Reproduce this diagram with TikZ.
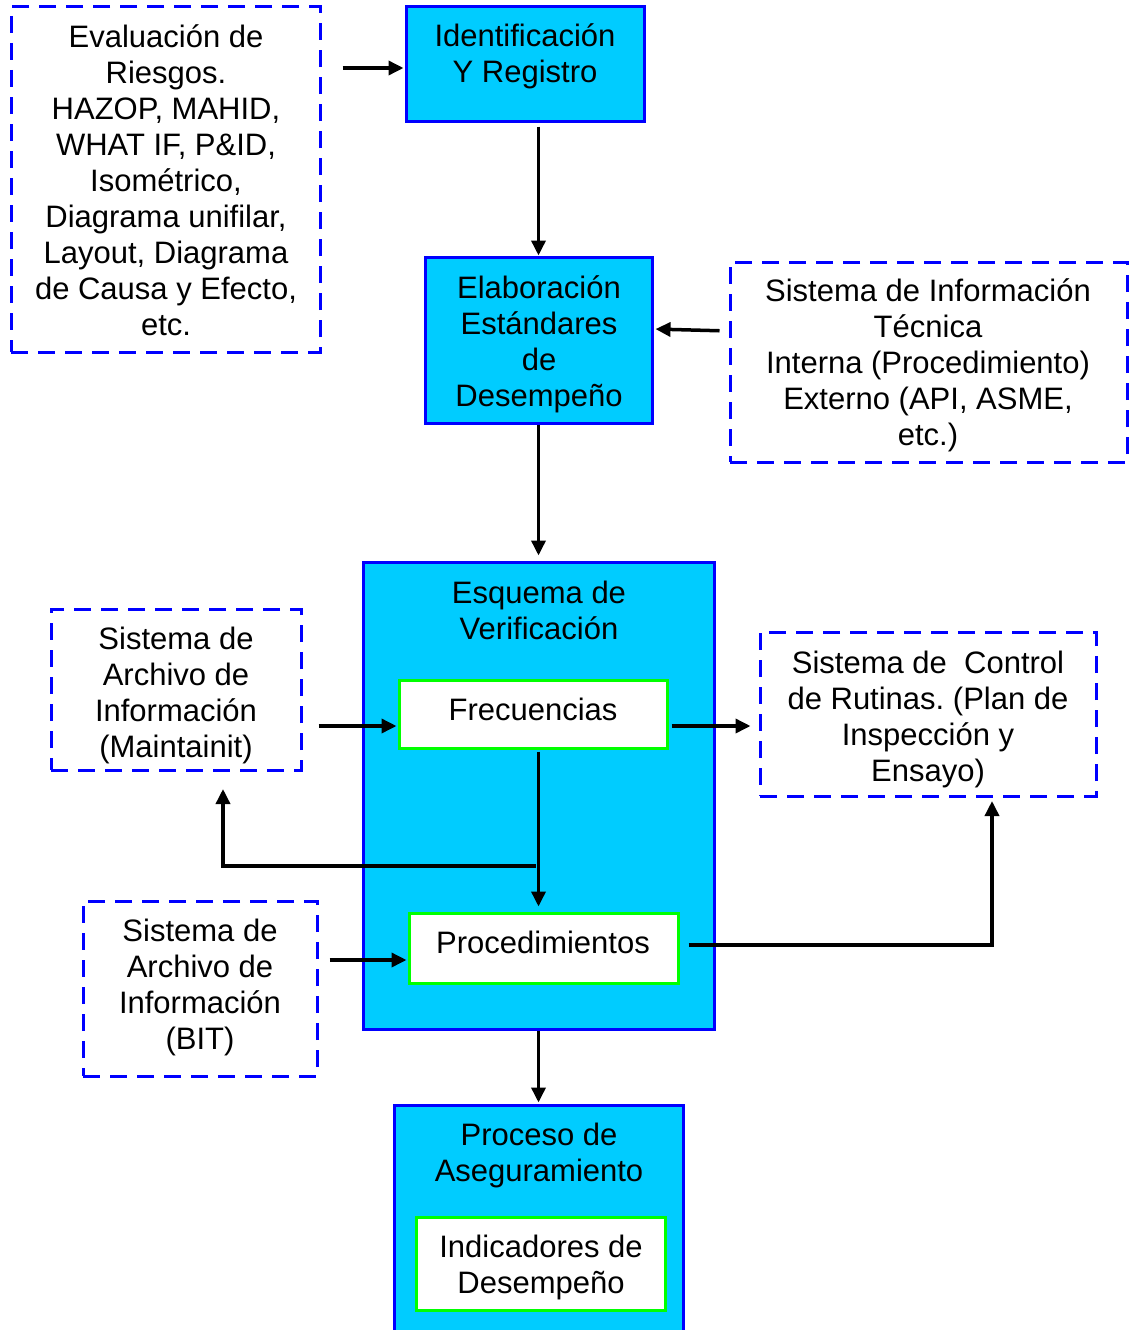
\documentclass[tikz,border=0pt]{standalone}
\usepackage{fontspec}
\setmainfont{Liberation Sans}
\usetikzlibrary{arrows.meta}
\definecolor{cyanfill}{RGB}{0,204,255}
\definecolor{bblue}{RGB}{0,0,255}
\definecolor{ggreen}{RGB}{0,255,0}
\frenchspacing
\begin{document}
\begin{tikzpicture}[x=1pt,y=-1pt,
  solidbox/.style={draw=bblue, line width=3pt, fill=cyanfill, inner sep=0pt, rectangle},
  dashbox/.style={draw=bblue, line width=3pt, dash pattern=on 17pt off 10pt, fill=white, inner sep=0pt, rectangle},
  greenbox/.style={draw=ggreen, line width=3pt, fill=white, inner sep=0pt, rectangle},
  txt/.style={font=\fontsize{31}{36}\selectfont, align=center, inner sep=0pt},
  arr/.style={draw=black, line width=3.5pt, -{Triangle[length=15pt,width=14pt]}}
]
\useasboundingbox[fill=white] (0,0) rectangle (1129,1330);

% boxes
\node[dashbox, minimum width=309pt, minimum height=345pt] (eval) at (165.5,179.5) {};
\node[solidbox, minimum width=238pt, minimum height=114pt] (ident) at (525,64) {};
\node[solidbox, minimum width=227pt, minimum height=166pt] (elab) at (538.5,340) {};
\node[dashbox, minimum width=397pt, minimum height=200pt] (tecn) at (928.5,362) {};
\node[solidbox, minimum width=351pt, minimum height=467pt] (esq) at (538.5,795.5) {};
\node[greenbox, minimum width=268pt, minimum height=68pt] (frec) at (533,714) {};
\node[greenbox, minimum width=269pt, minimum height=70pt] (proc) at (543.5,948) {};
\node[dashbox, minimum width=250pt, minimum height=161pt] (maint) at (176,689.5) {};
\node[dashbox, minimum width=336pt, minimum height=164pt] (ctrl) at (928,714) {};
\node[dashbox, minimum width=234pt, minimum height=175pt] (bit) at (200,988.5) {};
\node[solidbox, minimum width=289pt, minimum height=235pt] (aseg) at (538.5,1222.5) {};
\node[greenbox, minimum width=249pt, minimum height=93pt] (indic) at (540.5,1263.5) {};

% texts
\node[txt] (teval) at (166,180) {Evaluación de\\Riesgos.\\HAZOP, MAHID,\\WHAT IF, P\&ID,\\Isométrico,\\Diagrama unifilar,\\Layout, Diagrama\\de Causa y Efecto,\\etc.};
\node[txt] (tident) at (525,56.5) {Identificación\\Y Registro};
\node[txt] (telab) at (539,344.5) {Elaboración\\Estándares\\de\\Desempeño};
\node[txt] (ttecn) at (928,365.5) {Sistema de Información\\Técnica\\Interna (Procedimiento)\\Externo (API, ASME,\\etc.)};
\node[txt] (tesq) at (539,610.5) {Esquema de\\Verificación};
\node[txt] (tfrec) at (533,709) {Frecuencias};
\node[txt] (tmaint) at (176,695.5) {Sistema de\\Archivo de\\Información\\(Maintainit)};
\node[txt] (tctrl) at (928,719.5) {Sistema de\ \ Control\\de Rutinas. (Plan de\\Inspección y\\Ensayo)};
\node[txt] (tproc) at (543,942) {Procedimientos};
\node[txt] (tbit) at (200,987.5) {Sistema de\\Archivo de\\Información\\(BIT)};
\node[txt] (taseg) at (539,1155.5) {Proceso de\\Aseguramiento};
\node[txt] (tindic) at (541,1267.5) {Indicadores de\\Desempeño};

% connectors
\draw[arr, shorten <=21pt, shorten >=1pt] ([yshift=-4pt]eval.east |- ident.west) -- ([yshift=-4pt]ident.west);
\draw[arr, shorten <=4pt] (ident.south -| elab.north) -- (elab.north);
\draw[arr, shorten <=9pt, shorten >=2pt] ([yshift=31pt]tecn.west) -- ([yshift=11pt]elab.east);
\draw[arr, shorten >=5pt] (elab.south) -- (esq.north);
\draw[arr, shorten <=16pt, shorten >=1pt] ([yshift=-12pt]maint.east |- frec.west) -- ([yshift=-12pt]frec.west);
\draw[arr, shorten <=3pt, shorten >=8pt] ([yshift=-12pt]frec.east) -- ([yshift=-12pt]ctrl.west |- frec.east);
\draw[arr, shorten <=2pt, shorten >=5pt] (frec.south -| esq.north) -- (proc.north -| esq.north);
\coordinate (fb) at (536,866);
\coordinate (mb) at (223,770);
\draw[arr, shorten >=19pt] (fb) -| (mb);
\coordinate (cb) at (992,796);
\draw[arr, shorten <=9pt, shorten >=5pt] ([yshift=3pt]proc.east) -| (cb);
\draw[arr, shorten <=11pt, shorten >=1pt] ([yshift=-12pt]bit.east |- proc.west) -- ([yshift=-12pt]proc.west);
\draw[arr, shorten >=1pt] (esq.south) -- (aseg.north);
\end{tikzpicture}
\end{document}
